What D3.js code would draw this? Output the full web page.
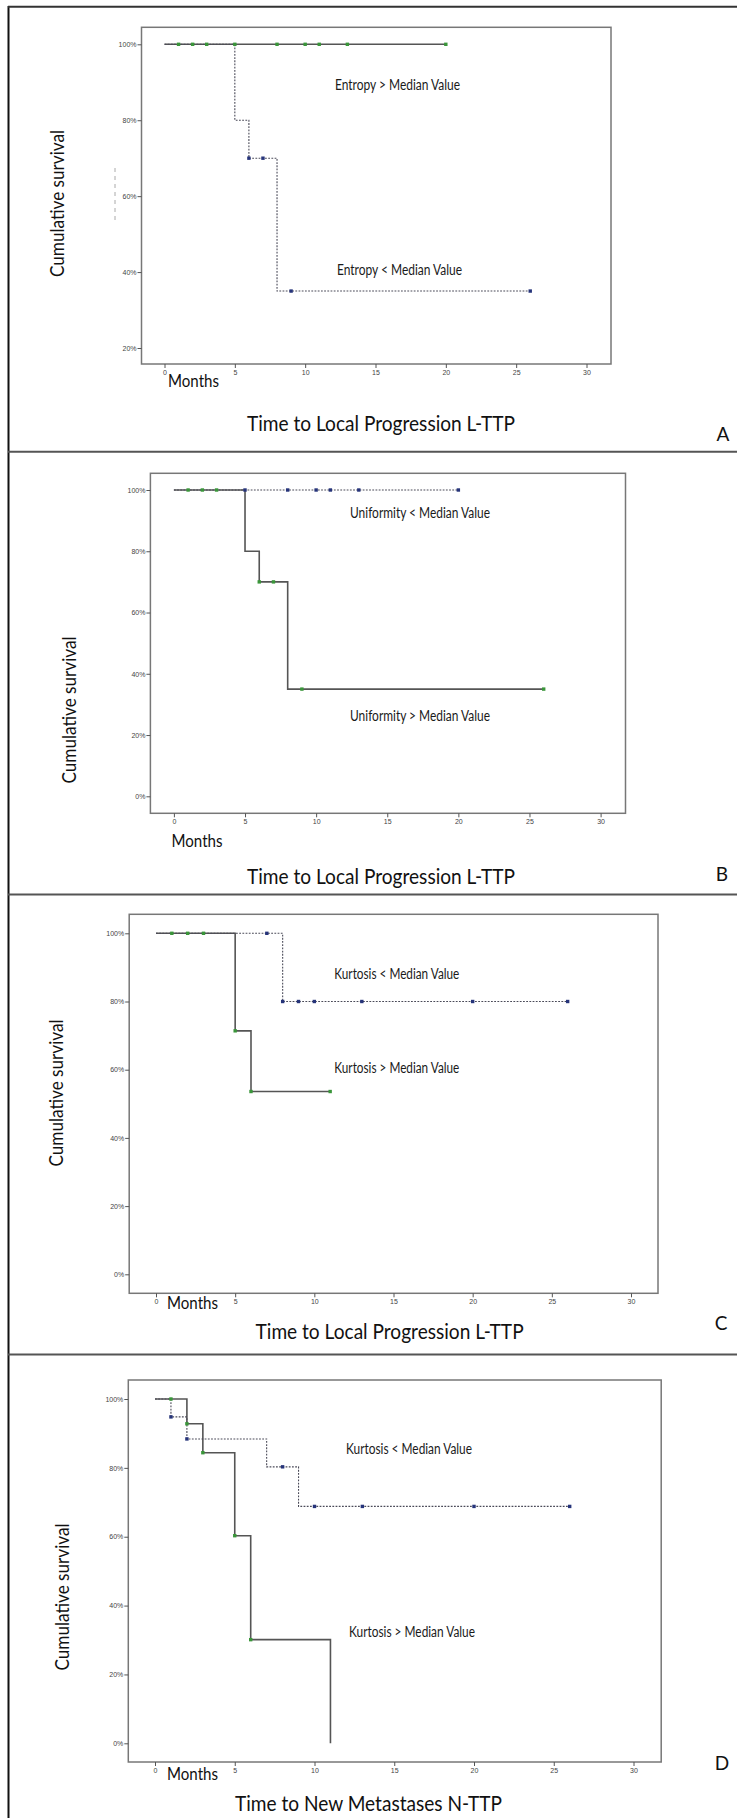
<html>
<head>
    <title>Kaplan-Meier</title>
    <script src="https://d3js.org/d3.v7.min.js"></script>
    <style>
        body { margin: 0; background: #fff; }
        .tick text { font-family: "Liberation Sans", Arial, sans-serif; fill: #444; }
    </style>
</head>
<body>
    <div id="km_plot"></div>
</body>
</html>

<script type="text/javascript">

    // x ticks (months) and y ticks (percent)
    var monthTicks = [0, 5, 10, 15, 20, 25, 30];
    var pctTicksA = [20, 40, 60, 80, 100];
    var pctTicks = [0, 20, 40, 60, 80, 100];

    // A - entropy
    var entropyHighTime = [0, 20];
    var entropyHighSurv = [100, 100];
    var entropyHighCens = [1, 2, 3, 5, 8, 10, 11, 13, 20];
    var entropyLowTime = [0, 5, 6, 8, 26];
    var entropyLowSurv = [100, 80, 70, 35, 35];
    var entropyLowCens = [6, 7, 9, 26];

    // B - uniformity
    var uniformLowTime = [0, 20];
    var uniformLowSurv = [100, 100];
    var uniformLowCens = [5, 8, 10, 11, 13, 20];
    var uniformHighTime = [0, 5, 6, 8, 26];
    var uniformHighSurv = [100, 80, 70, 35, 35];
    var uniformHighCens = [1, 2, 3, 6, 7, 9, 26];

    // C - kurtosis, local progression
    var kurtLowTimeC = [0, 8, 26];
    var kurtLowSurvC = [100, 80, 80];
    var kurtLowCensC = [7, 8, 9, 10, 13, 20, 26];
    var kurtHighTimeC = [0, 5, 6, 11];
    var kurtHighSurvC = [100, 71.4, 53.6, 53.6];
    var kurtHighCensC = [1, 2, 3, 5, 6, 11];

    // D - kurtosis, new metastases
    var kurtLowTimeD = [0, 1, 2, 7, 9, 26];
    var kurtLowSurvD = [100, 94.8, 88.4, 80.3, 68.8, 68.8];
    var kurtLowCensD = [1, 2, 8, 10, 13, 20, 26];
    var kurtHighTimeD = [0, 2, 3, 5, 6, 11];
    var kurtHighSurvD = [100, 92.8, 84.4, 60.3, 30.1, 0];
    var kurtHighCensD = [1, 2, 3, 5, 6];

    var width = 737, height = 1818;
    var green = "#3a963a", blue = "#26347a";

    // panel layout
    var panels = [
        { letter: "A", box: [141.5, 27.3, 611, 364], x0: 164.5, x30: 586.5, yTop: 44.3, yBot: 348, yMin: 20, yTicks: pctTicksA,
          series: [
            { t: entropyHighTime, s: entropyHighSurv, c: entropyHighCens, dash: false, col: green },
            { t: entropyLowTime, s: entropyLowSurv, c: entropyLowCens, dash: true, col: blue } ],
          labels: [ ["Entropy > Median Value", 335, 89.5, 125], ["Entropy < Median Value", 337, 275, 125] ],
          ylab: [63.5, 203.5], months: [168, 387], title: ["Time to Local Progression L-TTP", 381, 430.5, 268], let: [723, 441],
          artifact: [115, 168, 222] },
        { letter: "B", box: [150.4, 473.3, 625.5, 813.3], x0: 173.9, x30: 600.6, yTop: 490, yBot: 796.3, yMin: 0, yTicks: pctTicks,
          series: [
            { t: uniformHighTime, s: uniformHighSurv, c: uniformHighCens, dash: false, col: green },
            { t: uniformLowTime, s: uniformLowSurv, c: uniformLowCens, dash: true, col: blue } ],
          labels: [ ["Uniformity < Median Value", 350, 517.5, 140], ["Uniformity > Median Value", 350, 721, 140] ],
          ylab: [75.5, 710], months: [171.5, 846.5], title: ["Time to Local Progression L-TTP", 381, 883.5, 268], let: [722, 880.5] },
        { letter: "C", box: [129.2, 914.3, 658, 1293.3], x0: 156, x30: 631, yTop: 933.3, yBot: 1274.3, yMin: 0, yTicks: pctTicks,
          series: [
            { t: kurtHighTimeC, s: kurtHighSurvC, c: kurtHighCensC, dash: false, col: green },
            { t: kurtLowTimeC, s: kurtLowSurvC, c: kurtLowCensC, dash: true, col: blue } ],
          labels: [ ["Kurtosis < Median Value", 334.3, 978.5, 125], ["Kurtosis > Median Value", 334.3, 1073, 125] ],
          ylab: [62.5, 1093], months: [167, 1308.5], title: ["Time to Local Progression L-TTP", 389.6, 1338.5, 268], let: [721, 1329.5] },
        { letter: "D", box: [128.3, 1380, 661.2, 1762], x0: 155, x30: 633.5, yTop: 1399, yBot: 1743.3, yMin: 0, yTicks: pctTicks,
          series: [
            { t: kurtHighTimeD, s: kurtHighSurvD, c: kurtHighCensD, dash: false, col: green },
            { t: kurtLowTimeD, s: kurtLowSurvD, c: kurtLowCensD, dash: true, col: blue } ],
          labels: [ ["Kurtosis < Median Value", 346, 1453.5, 126], ["Kurtosis > Median Value", 349, 1637, 126] ],
          ylab: [68.5, 1597], months: [167, 1779.5], title: ["Time to New Metastases N-TTP", 368.5, 1810.5, 267], let: [722, 1769.5] }
    ];

    var svg = d3.select("#km_plot")
        .append("svg")
        .attr("width", width)
        .attr("height", height)
        .style("display", "block");

    // outer frame
    svg.append("line").attr("x1", 8.5).attr("x2", 8.5).attr("y1", 6).attr("y2", height)
        .attr("stroke", "#111").attr("stroke-width", 2);
    svg.append("line").attr("x1", 8).attr("x2", width).attr("y1", 6.7).attr("y2", 6.7)
        .attr("stroke", "#333").attr("stroke-width", 2);
    [451.7, 894.6, 1354.4].forEach(function(yy) {
        svg.append("line").attr("x1", 8).attr("x2", width).attr("y1", yy).attr("y2", yy)
            .attr("stroke", "#555").attr("stroke-width", 2);
    });

    // survival value at time t (step function)
    function survAt(t, times, surv) {
        var v = surv[0];
        for (var i = 0; i < times.length; i++) { if (times[i] <= t) v = surv[i]; }
        return v;
    }

    panels.forEach(function(p) {
        var g = svg.append("g");

        var x = d3.scaleLinear().domain([0, 30]).range([p.x0, p.x30]);
        var y = d3.scaleLinear().domain([p.yMin, 100]).range([p.yBot, p.yTop]);

        // plot box
        g.append("rect")
            .attr("x", p.box[0]).attr("y", p.box[1])
            .attr("width", p.box[2] - p.box[0]).attr("height", p.box[3] - p.box[1])
            .attr("fill", "none").attr("stroke", "#777").attr("stroke-width", 1.5);

        // axes
        var ax = g.append("g")
            .attr("transform", "translate(0," + p.box[3] + ")")
            .call(d3.axisBottom(x).tickValues(monthTicks).tickSize(4).tickPadding(2));
        ax.select(".domain").remove();
        ax.selectAll("line").attr("stroke", "#555");
        ax.selectAll("text").style("font-size", "7px");

        var ay = g.append("g")
            .attr("transform", "translate(" + p.box[0] + ",0)")
            .call(d3.axisLeft(y).tickValues(p.yTicks).tickFormat(function(d) { return d + "%"; }).tickSize(4).tickPadding(1));
        ay.select(".domain").remove();
        ay.selectAll("line").attr("stroke", "#555");
        ay.selectAll("text").style("font-size", "7px");

        // KM step lines
        p.series.forEach(function(s) {
            var pts = s.t.map(function(t, i) { return [t, s.s[i]]; });
            g.append("path")
                .datum(pts)
                .attr("fill", "none")
                .attr("stroke", s.dash ? "#4a4a58" : "#555")
                .attr("stroke-width", s.dash ? 1.1 : 1.6)
                .attr("stroke-dasharray", s.dash ? "1.8,1.4" : null)
                .attr("d", d3.line()
                    .curve(d3.curveStepAfter)
                    .x(function(d) { return x(d[0]); })
                    .y(function(d) { return y(d[1]); }));
        });

        // censor marks
        p.series.forEach(function(s) {
            g.append("g")
                .selectAll("rect")
                .data(s.c)
                .enter()
                .append("rect")
                    .attr("x", function(d) { return x(d) - 1.7; })
                    .attr("y", function(d) { return y(survAt(d, s.t, s.s)) - 1.7; })
                    .attr("width", 3.4)
                    .attr("height", 3.4)
                    .attr("fill", s.col);
        });

        // group labels
        p.labels.forEach(function(l) {
            g.append("text")
                .attr("x", l[1]).attr("y", l[2])
                .attr("textLength", l[3]).attr("lengthAdjust", "spacingAndGlyphs")
                .style("font-family", "Lato, sans-serif")
                .style("font-size", "14.5px")
                .style("fill", "#1a1a1a")
                .text(l[0]);
        });

        // y axis title
        g.append("text")
            .attr("transform", "translate(" + p.ylab[0] + "," + p.ylab[1] + ") rotate(-90)")
            .attr("text-anchor", "middle")
            .attr("textLength", 147).attr("lengthAdjust", "spacingAndGlyphs")
            .style("font-family", "Lato, 'Open Sans', sans-serif")
            .style("font-size", "20px")
            .style("fill", "#111")
            .text("Cumulative survival");

        // "Months"
        g.append("text")
            .attr("x", p.months[0]).attr("y", p.months[1])
            .attr("textLength", 51).attr("lengthAdjust", "spacingAndGlyphs")
            .style("font-family", "Lato, 'Open Sans', sans-serif")
            .style("font-size", "17.5px")
            .style("fill", "#111")
            .text("Months");

        // x title
        g.append("text")
            .attr("x", p.title[1]).attr("y", p.title[2])
            .attr("text-anchor", "middle")
            .attr("textLength", p.title[3]).attr("lengthAdjust", "spacingAndGlyphs")
            .style("font-family", "Lato, 'Open Sans', sans-serif")
            .style("font-size", "22px")
            .style("fill", "#111")
            .text(p.title[0]);

        // panel letter
        g.append("text")
            .attr("x", p.let[0]).attr("y", p.let[1])
            .attr("text-anchor", "middle")
            .style("font-family", "Lato, 'Open Sans', sans-serif")
            .style("font-size", "19px")
            .style("fill", "#111")
            .text(p.letter);

        // stray dashed mark left of the A axis
        if (p.artifact) {
            g.append("line")
                .attr("x1", p.artifact[0]).attr("x2", p.artifact[0])
                .attr("y1", p.artifact[1]).attr("y2", p.artifact[2])
                .attr("stroke", "#aaa").attr("stroke-width", 1)
                .attr("stroke-dasharray", "4,4");
        }
    });

</script>
